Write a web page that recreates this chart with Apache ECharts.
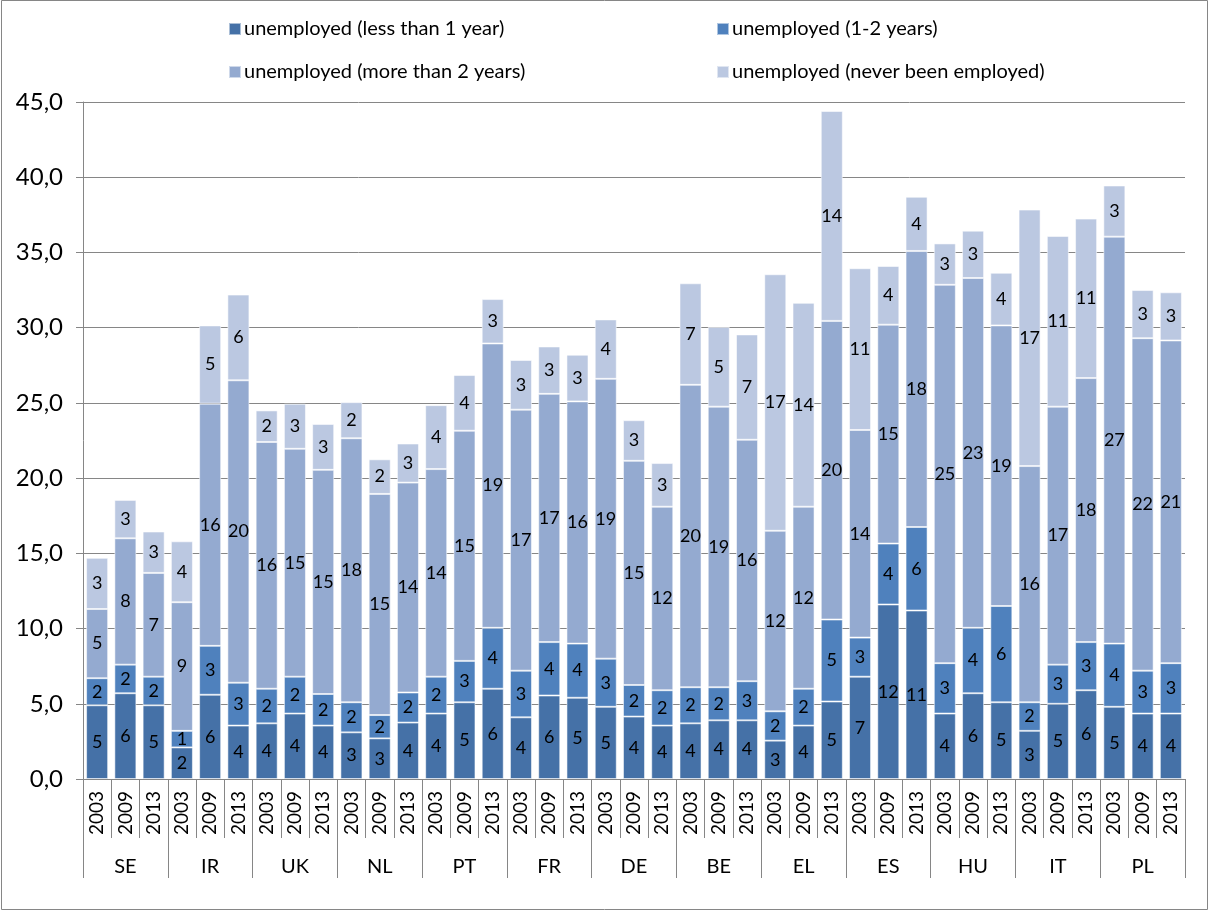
<!DOCTYPE html>
<html>
<head>
<meta charset="utf-8">
<script src="https://cdn.jsdelivr.net/npm/echarts@6/dist/echarts.min.js"></script>
<style>
  html, body { margin: 0; padding: 0; background: #fff; }
  #chart { width: 1210px; height: 911px; }
</style>
</head>
<body>
<div id="chart"></div>
<script>
// ---- data ----
const countries = ['SE','IR','UK','NL','PT','FR','DE','BE','EL','ES','HU','IT','PL'];
const years = ['2003','2009','2013'];
const seriesNames = [
  'unemployed (less than 1 year)',
  'unemployed (1-2 years)',
  'unemployed (more than 2 years)',
  'unemployed (never been employed)'
];
const lessThan1 = [4.9,5.7,4.9, 2.1,5.6,3.55, 3.7,4.35,3.55, 3.1,2.7,3.75, 4.35,5.1,6.0, 4.1,5.55,5.4, 4.8,4.15,3.55, 3.7,3.9,3.9, 2.55,3.55,5.15, 6.8,11.6,11.2, 4.35,5.7,5.1, 3.2,5.0,5.9, 4.8,4.35,4.35];
const oneToTwo = [1.8,1.9,1.9, 1.1,3.25,2.85, 2.3,2.45,2.1, 2.0,1.55,2.0, 2.45,2.75,4.05, 3.1,3.55,3.6, 3.2,2.1,2.35, 2.4,2.2,2.6, 1.95,2.45,5.45, 2.6,4.05,5.55, 3.35,4.35,6.4, 1.9,2.6,3.2, 4.2,2.85,3.35];
const moreThan2 = [4.6,8.4,6.9, 8.55,16.1,20.1, 16.4,15.15,14.9, 17.55,14.7,13.95, 13.8,15.3,18.9, 17.35,16.5,16.1, 18.6,14.9,12.2, 20.1,18.65,16.05, 12.0,12.1,19.85, 13.8,14.55,18.35, 25.15,23.25,18.65, 15.7,17.15,17.55, 27.05,22.1,21.45];
const neverEmployed = [3.4,2.55,2.75, 4.05,5.2,5.7, 2.1,3.0,3.05, 2.4,2.3,2.6, 4.25,3.7,2.95, 3.3,3.15,3.1, 3.95,2.7,2.9, 6.75,5.3,7.0, 17.05,13.55,13.95, 10.75,3.9,3.6, 2.75,3.15,3.5, 17.05,11.35,10.6, 3.4,3.2,3.2];
const yTicks = {min: 0, max: 45, interval: 5};

// ---- build ----
const categories = [];
countries.forEach(c => years.forEach(y => categories.push(c + '|' + y)));
const values = [lessThan1, oneToTwo, moreThan2, neverEmployed];
const colors = ['#4571A7', '#4F81BD', '#94AAD0', '#BBC8E1'];
const FONT = 'Lato';
const grey = '#868686';

const series = values.map((arr, i) => ({
  name: seriesNames[i],
  type: 'bar',
  stack: 'total',
  xAxisIndex: 0,
  yAxisIndex: 0,
  barCategoryGap: '22%',
  data: arr,
  itemStyle: { color: colors[i], borderColor: 'rgba(255,255,255,0.55)', borderWidth: 1 },
  label: {
    show: true,
    position: 'inside',
    formatter: p => String(Math.round(p.value)),
    color: '#000',
    fontFamily: FONT,
    fontSize: 18
  },
  emphasis: { disabled: true }
}));

const legendPos = [
  {left: 228, top: 19}, {left: 716, top: 19},
  {left: 228, top: 62}, {left: 716, top: 62}
];
const legends = seriesNames.map((n, i) => ({
  data: [n],
  left: legendPos[i].left,
  top: legendPos[i].top,
  orient: 'horizontal',
  itemWidth: 12,
  itemHeight: 12,
  itemGap: 0,
  icon: 'rect',
  padding: 0,
  textStyle: { fontFamily: FONT, fontSize: 20, color: '#000', padding: [0, 0, 0, -2] }
}));

const option = {
  animation: false,
  color: colors,
  legend: legends,
  grid: [
    { left: 83, right: 25, top: 102, bottom: 132 },
    { left: 83, right: 25, top: 102, bottom: 132 }
  ],
  xAxis: [
    {
      type: 'category',
      gridIndex: 0,
      data: categories,
      axisLine: { show: true, lineStyle: { color: grey, width: 1 } },
      axisTick: { show: true, interval: 0, length: 59, lineStyle: { color: grey, width: 1 } },
      axisLabel: {
        interval: 0,
        rotate: 90,
        margin: 12,
        fontFamily: FONT,
        fontSize: 19,
        color: '#000',
        formatter: v => v.split('|')[1]
      },
      splitLine: { show: false }
    },
    {
      type: 'category',
      gridIndex: 1,
      position: 'bottom',
      data: countries,
      axisLine: { show: false },
      axisTick: { show: true, interval: 0, length: 99, lineStyle: { color: grey, width: 1 } },
      axisLabel: {
        interval: 0,
        margin: 78,
        fontFamily: FONT,
        fontSize: 20,
        color: '#000'
      },
      splitLine: { show: false }
    }
  ],
  yAxis: [
    {
      type: 'value',
      gridIndex: 0,
      min: yTicks.min,
      max: yTicks.max,
      interval: yTicks.interval,
      axisLine: { show: true, lineStyle: { color: grey, width: 1 } },
      axisTick: { show: true, length: 7, lineStyle: { color: grey, width: 1 } },
      axisLabel: {
        margin: 20,
        fontFamily: FONT,
        fontSize: 24,
        color: '#000',
        formatter: v => v.toFixed(1).replace('.', ',')
      },
      splitLine: { show: true, lineStyle: { color: grey, width: 1 } }
    },
    {
      type: 'value',
      gridIndex: 1,
      min: 0, max: 45,
      show: false
    }
  ],
  graphic: [{
    type: 'rect',
    silent: true,
    shape: { x: 1.5, y: 0.5, width: 1206, height: 909 },
    style: { fill: 'none', stroke: grey, lineWidth: 1 }
  }],
  series: series
};

const chart = echarts.init(document.getElementById('chart'), null, { renderer: 'canvas' });
chart.setOption(option);
</script>
</body>
</html>
